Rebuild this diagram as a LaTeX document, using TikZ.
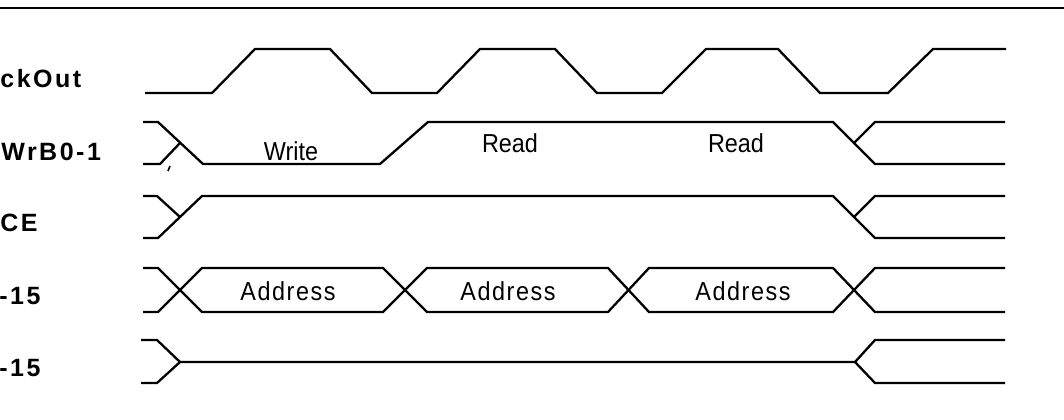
\documentclass[tikz,border=0pt]{standalone}
\usepackage{fontspec}
\setmainfont{Liberation Sans}
\newfontfamily\lblfont[LetterSpace=10]{Liberation Sans}
\newfontfamily\innerfont[FakeStretch=0.9]{Liberation Sans}
\newfontfamily\addrfont[FakeStretch=0.9,LetterSpace=6]{Liberation Sans}
\begin{document}
\begin{tikzpicture}[x=0.5pt,y=-0.5pt,
  sig/.style={line width=1.15pt,line join=miter},
  rowlbl/.style={anchor=base west,inner sep=0pt,font=\lblfont\bfseries\fontsize{12.5}{14}\selectfont},
  inlbl/.style={anchor=base,inner sep=0pt,font=\innerfont\fontsize{13}{15}\selectfont},
  addrlbl/.style={anchor=base,inner sep=0pt,font=\addrfont\fontsize{13}{15}\selectfont}]
\useasboundingbox (0,0) rectangle (1064,419);
% top rule
\draw[line width=1.2pt] (0,8) -- (1064,8);
% row labels
\node[rowlbl] (l1) at (0,87) {ckOut};
\node[rowlbl] (l2) at (1,160) {WrB0-1};
\node[rowlbl] (l3) at (0,231) {CE};
\node[rowlbl] (l4) at (-1,304) {-15};
\node[rowlbl] (l5) at (-1,376) {-15};
% ClockOut
\draw[sig] (145,93)--(212,93)--(255,49)--(330,49)--(372,93)--(437,93)--(480,49)--(555,49)--(597,93)--(662,93)--(706,49)--(778,49)--(820,93)--(888,93)--(933,49)--(1006,49);
% WrB0-1
\draw[sig] (143,122)--(158,122)--(203,164)--(380,164)--(428,122)--(833,122)--(875,164)--(1005,164);
\draw[sig] (143,164)--(160,164)--(180,143);
\draw[sig] (854,143)--(875,122)--(1005,122);
\draw[line width=0.8pt] (170,166)--(168,171);
\node[inlbl] (w) at (291,160) {Write};
\node[inlbl] (r1) at (510,152) {Read};
\node[inlbl] (r2) at (736,152) {Read};
% CE
\draw[sig] (143,196)--(157,196)--(180,217);
\draw[sig] (143,238)--(158,238)--(202,196)--(833,196)--(875,238)--(1005,238);
\draw[sig] (854,217)--(875,196)--(1005,196);
% Address bus
\draw[sig] (143,268)--(158,268)--(202,312)--(383,312)--(427,268)--(608,268)--(649,312)--(833,312)--(875,268)--(1005,268);
\draw[sig] (143,312)--(158,312)--(202,268)--(383,268)--(427,312)--(608,312)--(649,268)--(833,268)--(875,312)--(1005,312);
\node[addrlbl] (a1) at (288,300) {Address};
\node[addrlbl] (a2) at (508,300) {Address};
\node[addrlbl] (a3) at (743,300) {Address};
% Data bus
\draw[sig] (141,340)--(157,340)--(180,362)--(855,362);
\draw[sig] (141,383)--(157,383)--(180,362);
\draw[sig] (855,362)--(875,340)--(1005,340);
\draw[sig] (855,362)--(875,383)--(1005,383);
\end{tikzpicture}
\end{document}
